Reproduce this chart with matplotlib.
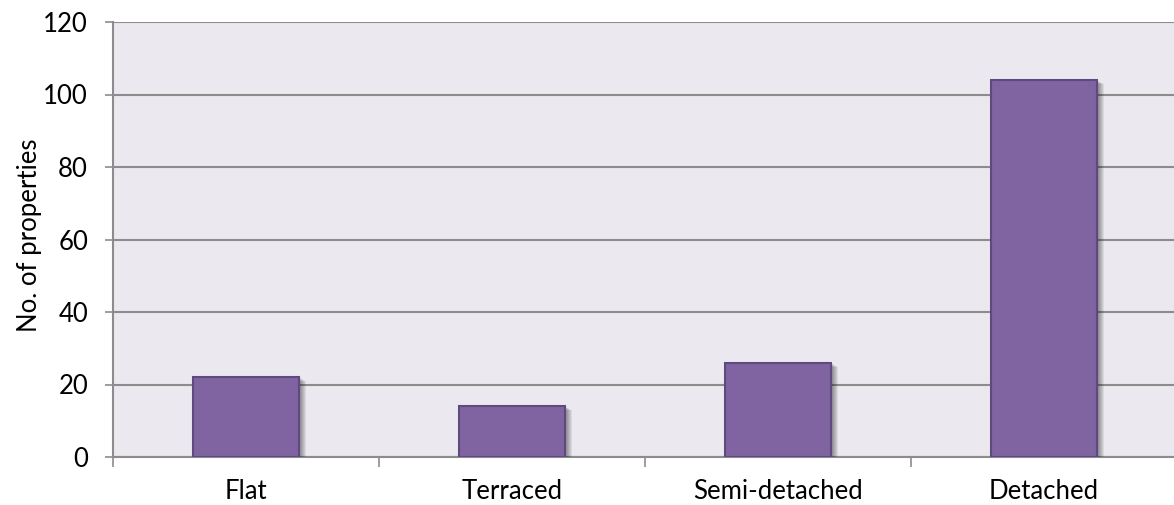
import matplotlib
matplotlib.use("Agg")
import matplotlib.pyplot as plt
import matplotlib.patheffects as pe
import numpy as np

categories = ["Flat", "Terraced", "Semi-detached", "Detached"]
values = [22, 14, 26, 104]
yticks = [0, 20, 40, 60, 80, 100, 120]
ylabel = "No. of properties"

plt.rcParams['font.family'] = ['Lato', 'DejaVu Sans']

W, H = 1174, 505
fig = plt.figure(figsize=(W / 100, H / 100), dpi=100)
left, right, top, bottom = 113, 1177, 22, 457
ax = fig.add_axes([left / W, (H - bottom) / H, (right - left) / W, (bottom - top) / H])
ax.set_facecolor("#EBE9EF")

x = np.arange(len(categories))
effects = [pe.SimplePatchShadow(offset=(0.65 * k, -0.4 * k), shadow_rgbFace="black", alpha=0.07)
           for k in range(1, 8)] + [pe.Normal()]
bars = ax.bar(x, values, width=0.40, color="#8064A2", edgecolor="#5E4A7E", linewidth=1.5, zorder=3)
for b in bars:
    b.set_path_effects(effects)

ax.set_xlim(-0.5, len(categories) - 0.5)
ax.set_ylim(0, 120)
ax.set_yticks(yticks)
ax.tick_params(axis="y", length=6, width=1.2, color="#8C8C8C", labelsize=18.5, pad=12, labelcolor="black")
ax.yaxis.grid(True, color="#8C8C8C", linewidth=1.5, zorder=1)
ax.set_axisbelow(True)

ax.set_xticks(np.arange(-0.5, len(categories), 1.0))
ax.set_xticklabels([])
ax.set_xticks(x, minor=True)
ax.set_xticklabels(categories, minor=True)
ax.tick_params(axis="x", which="major", length=7, width=1.2, color="#8C8C8C")
ax.tick_params(axis="x", which="minor", length=0, labelsize=18.5, pad=16, labelcolor="black")

for s in ["top", "right"]:
    ax.spines[s].set_visible(False)
for s in ["left", "bottom"]:
    ax.spines[s].set_color("#8C8C8C")
    ax.spines[s].set_linewidth(1.5)

ax.set_ylabel(ylabel, fontsize=18.5)
ax.yaxis.set_label_coords(-0.067, 0.51)

fig.savefig("out.png", dpi=100)
